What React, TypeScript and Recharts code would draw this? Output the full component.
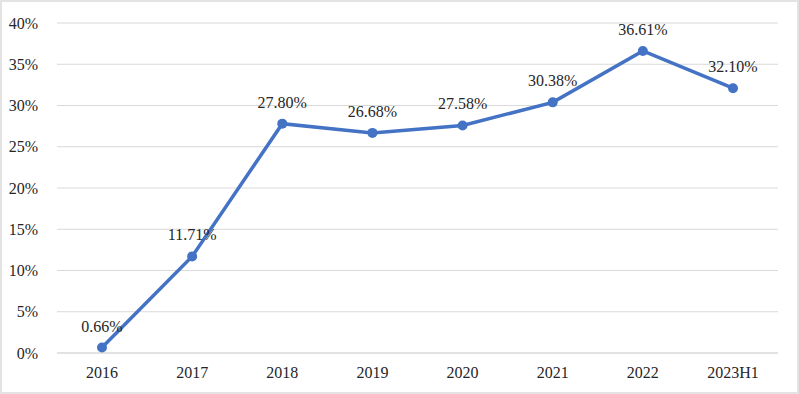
import { CartesianGrid, LabelList, Line, LineChart, XAxis, YAxis } from "recharts";

const years = ["2016", "2017", "2018", "2019", "2020", "2021", "2022", "2023H1"];
const rates = [0.66, 11.71, 27.8, 26.68, 27.58, 30.38, 36.61, 32.1];
const yTicks = [0, 5, 10, 15, 20, 25, 30, 35, 40];

const data = years.map((year, i) => ({ year, rate: rates[i] }));

const FONT = "'Liberation Serif', 'Times New Roman', Times, 'DejaVu Serif', serif";
const TEXT = "#262626";
const BLUE = "#4472C4";
const GRID = "#d9d9d9";

export default function App() {
  return (
    <div style={{ position: "absolute", left: 0, top: 0, width: 799, height: 394, background: "#fff" }}>
      <style>{`.rate-chart text, .rate-chart tspan { font-family: ${FONT} !important; }`}</style>
      <LineChart
        className="rate-chart"
        width={799}
        height={394}
        data={data}
        margin={{ top: 23, right: 21, left: 0, bottom: 11 }}
      >
        <CartesianGrid vertical={false} stroke={GRID} strokeWidth={1} />
        <XAxis
          dataKey="year"
          height={30}
          padding={{ left: 45, right: 45 }}
          tickLine={false}
          axisLine={{ stroke: GRID }}
          tickMargin={8}
          tick={{ fill: TEXT, fontSize: 16, fontFamily: FONT }}
          interval={0}
        />
        <YAxis
          domain={[0, 40]}
          ticks={yTicks}
          tickFormatter={(v: number) => `${v}%`}
          tickLine={false}
          axisLine={false}
          width={57}
          tickMargin={13}
          tick={{ fill: TEXT, fontSize: 16, fontFamily: FONT }}
        />
        <Line
          type="linear"
          dataKey="rate"
          stroke={BLUE}
          strokeWidth={3.5}
          dot={{ r: 5, fill: BLUE, stroke: BLUE, strokeWidth: 0 }}
          activeDot={false}
          isAnimationActive={false}
        >
          <LabelList
            dataKey="rate"
            position="top"
            offset={16}
            formatter={(v: number) => `${v.toFixed(2)}%`}
            fill={TEXT}
            fontSize={16}
            fontFamily={FONT}
          />
        </Line>
      </LineChart>
      <div
        style={{
          position: "absolute",
          inset: 0,
          border: "2px solid #e3e3e3",
          pointerEvents: "none",
        }}
      />
    </div>
  );
}
